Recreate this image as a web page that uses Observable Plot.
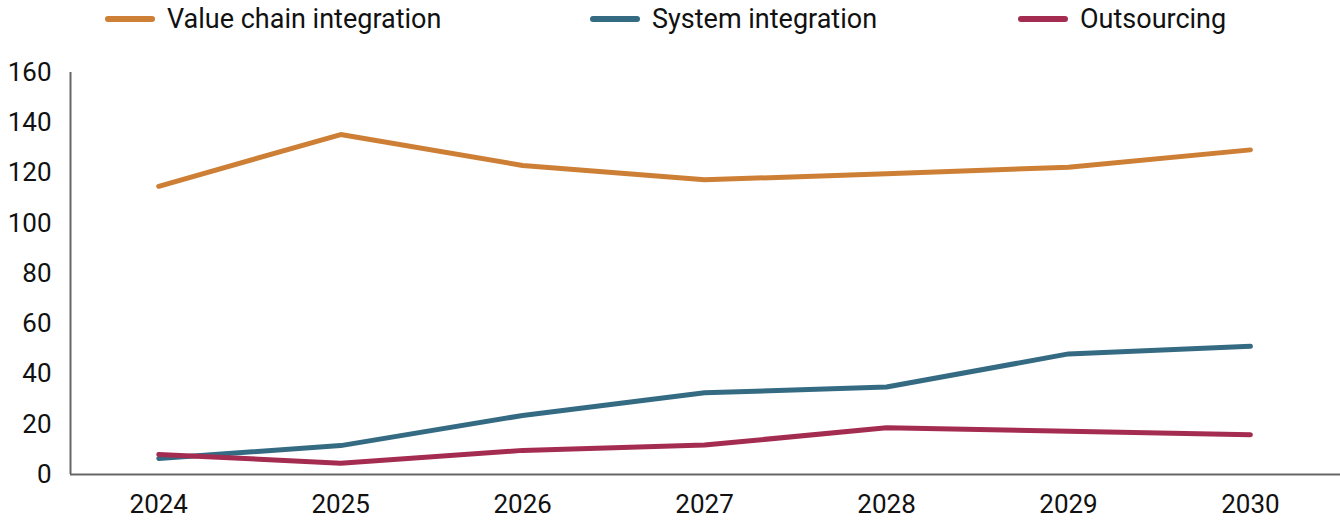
<!DOCTYPE html>
<html>
<head>
<meta charset="utf-8">
<script src="https://cdn.jsdelivr.net/npm/d3@7"></script>
<script src="https://cdn.jsdelivr.net/npm/@observablehq/plot@0.6"></script>
<style>
  html, body { margin: 0; padding: 0; background: #fff; }
  body { width: 1340px; height: 521px; overflow: hidden; font-family: Roboto, "Noto Sans", sans-serif; }
  #legend { position: relative; height: 44px; }
  .item { position: absolute; top: 3px; display: flex; align-items: center; font-size: 27px; color: #111; }
  .sw { width: 50px; height: 6px; border-radius: 3px; margin-right: 12px; }
</style>
</head>
<body>
<div id="legend"></div>
<div id="chart"></div>
<script>
const years = [2024, 2025, 2026, 2027, 2028, 2029, 2030];
const seriesNames = ["Value chain integration", "System integration", "Outsourcing"];
const valueChain = [114.7, 135.3, 123.0, 117.3, 119.7, 122.3, 129.2];
const systemIntegration = [6.4, 11.5, 23.5, 32.5, 34.8, 48.0, 51.0];
const outsourcing = [8.0, 4.5, 9.6, 11.7, 18.6, 17.2, 15.8];
const yTicks = [0, 20, 40, 60, 80, 100, 120, 140, 160];
const colors = ["#CD7F35", "#346B83", "#A52C51"];

const seriesValues = [valueChain, systemIntegration, outsourcing];
const data = seriesNames.flatMap((name, i) =>
  years.map((year, j) => ({ series: name, year, value: seriesValues[i][j] }))
);

// legend
const legendLefts = [105, 590, 1018];
const legend = document.getElementById("legend");
seriesNames.forEach((name, i) => {
  const item = document.createElement("div");
  item.className = "item";
  item.style.left = legendLefts[i] + "px";
  item.innerHTML = `<span class="sw" style="background:${colors[i]}"></span><span>${name}</span>`;
  legend.appendChild(item);
});

const chart = Plot.plot({
  width: 1340,
  height: 477,
  marginLeft: 70,
  marginRight: 0,
  marginTop: 28,
  marginBottom: 47,
  style: { fontFamily: "Roboto, sans-serif", fontSize: "26px", color: "#111", background: "#fff" },
  x: { domain: [2023.515, 2030.495], ticks: years, tickFormat: "d", tickSize: 0, tickPadding: 20, label: null },
  y: { domain: [0, 160], ticks: yTicks, tickSize: 0, tickPadding: 19, label: null },
  color: { domain: seriesNames, range: colors },
  marks: [
    Plot.ruleX([2023.515], { stroke: "#666", strokeWidth: 2 }),
    Plot.ruleY([0], { stroke: "#666", strokeWidth: 2 }),
    Plot.lineY(data, { x: "year", y: "value", z: "series", stroke: "series", strokeWidth: 5, strokeLinecap: "round", strokeLinejoin: "round" })
  ]
});
document.getElementById("chart").appendChild(chart);
</script>
</body>
</html>
